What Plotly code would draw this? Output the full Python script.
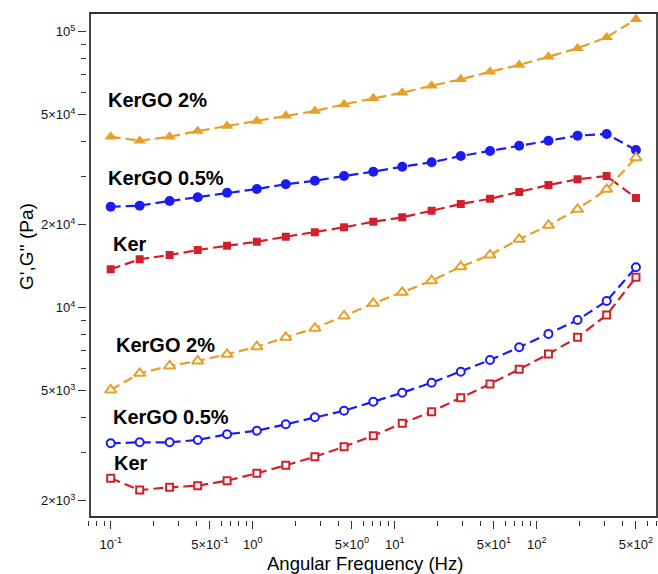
import plotly.graph_objects as go

# ---- data ----
freq = [0.1, 0.16, 0.26, 0.41, 0.66, 1.07, 1.71, 2.74, 4.4, 7.07,
        11.3, 18.2, 29.2, 46.9, 75.3, 121, 194, 311, 500]

kergo2_gp = [41650, 40290, 41650, 43660, 45520, 47450, 49620, 51610, 54570, 57370,
             60120, 63730, 67220, 71620, 75750, 81160, 87080, 95430, 110900]
kergo05_gp = [23220, 23430, 24360, 25120, 26100, 26920, 28010, 28850, 30000, 31100,
              32430, 33640, 35450, 36970, 38640, 40290, 42010, 42600, 37270]
ker_gp = [13780, 14980, 15520, 16180, 16770, 17340, 18080, 18760, 19560, 20490,
          21260, 22460, 23750, 24820, 26250, 27830, 29190, 30000, 24970]

kergo2_gpp = [5033, 5785, 6149, 6411, 6780, 7222, 7813, 8423, 9331, 10370,
              11370, 12530, 14080, 15520, 17690, 19890, 22730, 26850, 34960]
kergo05_gpp = [3226, 3253, 3253, 3317, 3478, 3584, 3780, 4008, 4235, 4564,
               4920, 5350, 5864, 6464, 7186, 8030, 9024, 10570, 14010]
ker_gpp = [2409, 2185, 2235, 2265, 2362, 2512, 2685, 2885, 3136, 3438,
           3813, 4201, 4720, 5292, 5982, 6796, 7813, 9410, 12880]

x_tickvals = [0.1, 0.5, 1, 5, 10, 50, 100, 500]
x_ticktext = ["10<sup>-1</sup>", "5×10<sup>-1</sup>", "10<sup>0</sup>", "5×10<sup>0</sup>",
              "10<sup>1</sup>", "5×10<sup>1</sup>", "10<sup>2</sup>", "5×10<sup>2</sup>"]
x_minor = [0.07, 0.08, 0.09, 0.2, 0.3, 0.4, 0.6, 0.7, 0.8, 0.9,
           2, 3, 4, 6, 7, 8, 9, 20, 30, 40, 60, 70, 80, 90,
           200, 300, 400, 600, 700]
y_tickvals = [2000, 5000, 10000, 20000, 50000, 100000]
y_ticktext = ["2×10<sup>3</sup>", "5×10<sup>3</sup>", "10<sup>4</sup>",
              "2×10<sup>4</sup>", "5×10<sup>4</sup>", "10<sup>5</sup>"]
y_minor = [3000, 4000, 6000, 7000, 8000, 9000,
           30000, 40000, 60000, 70000, 80000, 90000]

labels_gp = ["KerGO 2%", "KerGO 0.5%", "Ker"]
labels_gpp = ["KerGO 2%", "KerGO 0.5%", "Ker"]

ORANGE = "#E6A02A"
BLUE = "#1C1CF2"
RED = "#D2202A"

W, H = 658, 574
ML, MR, MT, MB = 87, 1, 13, 54
PW = W - ML - MR
PH = H - MT - MB

fig = go.Figure()
dash = "10px,5px"


def add(y, color, symbol, size, filled):
    if filled:
        marker = dict(symbol=symbol, size=size, color=color, line=dict(width=0))
    else:
        marker = dict(symbol=symbol, size=size, color="white",
                      line=dict(width=2, color=color))
    fig.add_trace(go.Scatter(x=freq, y=y, mode="lines+markers",
                             line=dict(color=color, width=2.2, dash=dash),
                             marker=marker, showlegend=False))


add(kergo2_gp, ORANGE, "triangle-up", 11, True)
add(kergo05_gp, BLUE, "circle", 10, True)
add(ker_gp, RED, "square", 8, True)
add(kergo2_gpp, ORANGE, "triangle-up", 10, False)
add(kergo05_gpp, BLUE, "circle", 8, False)
add(ker_gpp, RED, "square", 7, False)

FONT = "Liberation Sans, Arial, sans-serif"

fig.update_xaxes(type="log", range=[-1.1669, 2.8472],
                 tickmode="array", tickvals=x_tickvals, ticktext=x_ticktext,
                 ticks="outside", ticklen=8, tickwidth=1.2, tickcolor="#333",
                 ticklabelstandoff=4,
                 minor=dict(tickvals=x_minor, ticks="outside", ticklen=5,
                            tickwidth=1.2, tickcolor="#333", showgrid=False),
                 showline=False, showgrid=False, zeroline=False,
                 tickfont=dict(family=FONT, size=13, color="#111"))
fig.update_yaxes(type="log", range=[3.2308, 5.0678],
                 tickmode="array", tickvals=y_tickvals, ticktext=y_ticktext,
                 ticks="outside", ticklen=8, tickwidth=1.2, tickcolor="#333",
                 minor=dict(tickvals=y_minor, ticks="outside", ticklen=5,
                            tickwidth=1.2, tickcolor="#333", showgrid=False),
                 showline=False, showgrid=False, zeroline=False,
                 tickfont=dict(family=FONT, size=13, color="#111"))

# frame (slightly inset from the tick side, like the original)
fig.add_shape(type="rect", xref="paper", yref="paper",
              x0=3 / PW, x1=1, y0=3 / PH, y1=1,
              line=dict(color="#333", width=1.8), fillcolor="rgba(0,0,0,0)",
              layer="above")


def px2paper(px, py):
    return (px - ML) / PW, (H - MB - py) / PH


ann_pos_gp = [(106, 100), (106, 178), (111, 244)]
ann_pos_gpp = [(114, 344.5), (111, 416.5), (112, 463)]
for txt, (px, py) in zip(labels_gp + labels_gpp, ann_pos_gp + ann_pos_gpp):
    ax, ay = px2paper(px, py)
    fig.add_annotation(x=ax, y=ay, xref="paper", yref="paper", text="<b>%s</b>" % txt,
                       showarrow=False, xanchor="left", yanchor="middle",
                       font=dict(family=FONT, size=20, color="black"))

tx, ty = px2paper(365, 563)
fig.add_annotation(x=tx, y=ty, xref="paper", yref="paper", text="Angular Frequency (Hz)",
                   showarrow=False, xanchor="center", yanchor="middle",
                   font=dict(family=FONT, size=18.5, color="black"))
tx, ty = px2paper(26, 247)
fig.add_annotation(x=tx, y=ty, xref="paper", yref="paper", text="G',G'' (Pa)",
                   showarrow=False, xanchor="center", yanchor="middle", textangle=-90,
                   font=dict(family=FONT, size=19, color="black"))

fig.update_layout(width=W, height=H, margin=dict(l=ML, r=MR, t=MT, b=MB),
                  paper_bgcolor="white", plot_bgcolor="white",
                  font=dict(family=FONT))

fig.write_html("out.html")
